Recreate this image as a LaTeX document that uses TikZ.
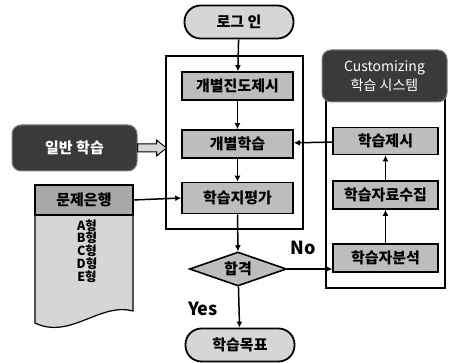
\documentclass[tikz,border=0pt]{standalone}
\usepackage{fontspec}
\newfontfamily\kr{Noto Sans CJK KR}
\usetikzlibrary{shapes.geometric,arrows.meta,calc}
\definecolor{boxgray}{HTML}{BDBDBD}
\definecolor{lightgray2}{HTML}{D6D6D6}
\definecolor{darkbox}{HTML}{3A3A3A}
\definecolor{hdrgray}{HTML}{A8A8A8}
\tikzset{
  procbox/.style={draw=black, line width=1.6pt, fill=boxgray, minimum height=28pt, inner sep=0pt,
    font=\kr\bfseries\fontsize{15}{16}\selectfont},
  pill/.style={draw=black, line width=1.8pt, fill=lightgray2, rounded corners=16pt, inner sep=0pt,
    minimum width=109pt, minimum height=33pt, font=\kr\bfseries\fontsize{15}{16}\selectfont},
  darknode/.style={draw=gray, line width=1pt, fill=darkbox, rounded corners=9pt, inner sep=0pt,
    text=white},
  flow/.style={line width=1.5pt, -{Latex[length=6pt,width=6pt]}},
  frame/.style={draw=black, line width=2.6pt},
  lbl/.style={font=\kr\bfseries\fontsize{18}{19}\selectfont, inner sep=0pt}
}
\begin{document}
\begin{tikzpicture}[x=1pt,y=-1pt]
\useasboundingbox (0,0) rectangle (451,363);
% frames
\draw[frame] (166,56) rectangle (303,229);
\draw[frame] (326,96) rectangle (445,288);
% header of customizing
\node[darknode, minimum width=125pt, minimum height=52pt, align=center,
  font=\kr\fontsize{14}{19}\selectfont] (hdr) at (384.5,76) {Customizing\\학습 시스템};
% main flow
\node[pill] (login) at (239,22) {로그 인};
\node[procbox, minimum width=111pt] (b1) at (237.5,86) {개별진도제시};
\node[procbox, minimum width=111pt] (b2) at (237.5,144) {개별학습};
\node[procbox, minimum width=111pt, minimum height=31pt] (b3) at (237.5,198) {학습지평가};
\node[diamond, draw=black, line width=1.6pt, fill=boxgray, inner sep=0pt, aspect=3,
  minimum width=97pt, minimum height=34pt, font=\kr\bfseries\fontsize{15}{16}\selectfont] (dia) at (238,269) {합격};
\node[pill] (goal) at (240,345) {학습목표};
% right column
\node[procbox, minimum width=105pt, minimum height=27pt] (r1) at (385.5,141) {학습제시};
\node[procbox, minimum width=105pt, minimum height=28pt] (r2) at (385.5,195) {학습자료수집};
\node[procbox, minimum width=105pt, minimum height=28pt] (r3) at (385.5,258) {학습자분석};
% general learning
\node[darknode, minimum width=125pt, minimum height=46pt, font=\kr\bfseries\fontsize{15}{16}\selectfont] (gen) at (74.5,148) {일반 학습};
\draw[line width=1pt, fill=lightgray2] ($(gen.east)+(0,-4)$) -- ++(19,0) -- ++(0,-4) -- ++(10,8) -- ++(-10,8) -- ++(0,-4) -- ++(-19,0) -- cycle;
% document shape: problem bank
\draw[line width=1.2pt, fill=lightgray2] (35,185) -- (133,185) -- (133,311)
  .. controls (100,302) and (70,340) .. (35,323) -- cycle;
\fill[hdrgray] (35.6,185.6) rectangle (132.4,215);
\draw[line width=1.2pt] (35,185) rectangle (133,215);
\node[inner sep=0pt, font=\kr\bfseries\fontsize{15}{16}\selectfont] (bank) at (84,200) {문제은행};
\node[inner sep=0pt, align=center, font=\kr\bfseries\fontsize{12.5}{11.5}\selectfont] (types) at (87,251) {A형\\B형\\C형\\D형\\E형};
\coordinate (bankr) at (133,200);
% connectors
\draw[flow] (login) -- (b1);
\draw[flow] (b1) -- (b2);
\draw[flow] (b2) -- (b3);
\draw[flow] (b3) -- (dia);
\draw[flow] (dia) -- (goal);
\draw[flow] (bankr) -- (b3.west);
\draw[flow] (dia.east) -- (dia.east -| r3.west);
\draw[flow] (r3) -- (r2);
\draw[flow] (r2) -- (r1);
\draw[flow] (r1) -- (b2);
% labels
\node[lbl] (no) at (303,248) {No};
\node[lbl] (yes) at (203,309) {Yes};
\end{tikzpicture}
\end{document}
